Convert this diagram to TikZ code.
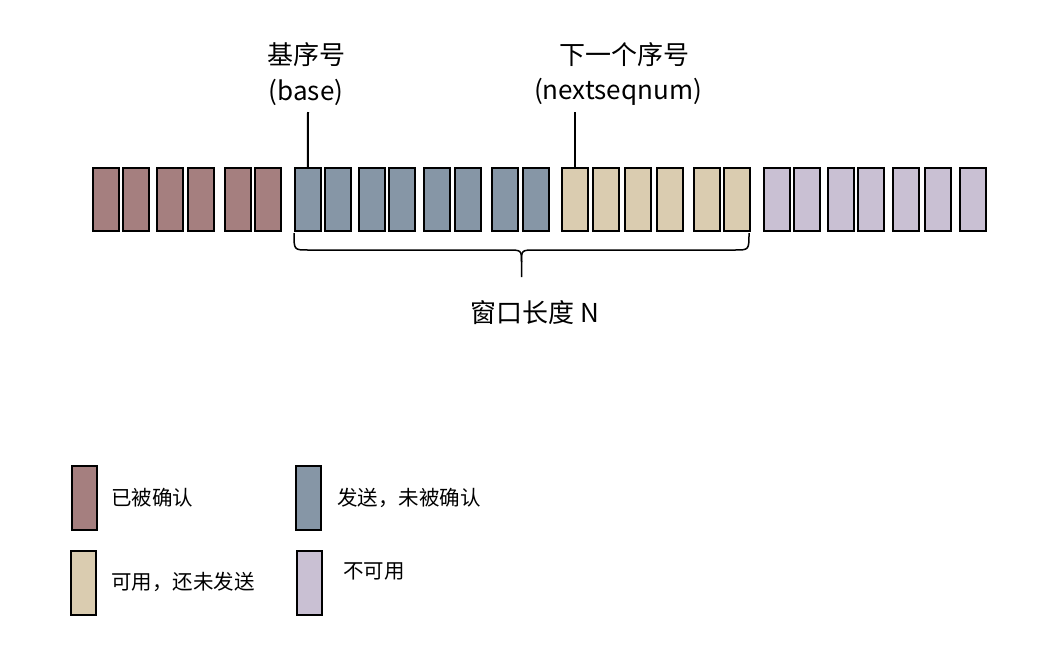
\documentclass[tikz,border=0pt]{standalone}
\usepackage{fontspec}
\setmainfont{Noto Sans CJK SC}
\usepackage{xcolor}
\usetikzlibrary{positioning}

\definecolor{ackedred}{HTML}{A57F7F}
\definecolor{sentblue}{HTML}{8696A6}
\definecolor{usabletan}{HTML}{DACCB0}
\definecolor{unusablelilac}{HTML}{C9C0D3}

\begin{document}
\begin{tikzpicture}[x=1pt, y=-1pt,
    cell/.style={draw, line width=2pt, minimum width=25.5pt, minimum height=63pt, inner sep=0pt},
    bigtext/.style={font=\fontsize{26}{30}\selectfont, inner sep=0pt},
    keytext/.style={font=\fontsize{20.5}{24}\selectfont, anchor=west, inner sep=0pt}]
    \useasboundingbox (0,0) rectangle (1055,648);

    % Sequence number cells
    \foreach \x [count=\i] in {92,122,156,187,224,254}
        \node[cell, fill=ackedred] (r\i) at (\x+13.75,199.5) {};
    \foreach \x [count=\i] in {294,324,358,388,423,454,491,522}
        \node[cell, fill=sentblue] (b\i) at (\x+13.75,199.5) {};
    \foreach \x [count=\i] in {561,592,624,656,693,723}
        \node[cell, fill=usabletan] (t\i) at (\x+13.75,199.5) {};
    \foreach \x [count=\i] in {763,793,827,857,892,924,959}
        \node[cell, fill=unusablelilac] (p\i) at (\x+13.75,199.5) {};

    % Pointers
    \coordinate (baseTop) at (308,112);
    \coordinate (nextTop) at (574.75,112);
    \draw[line width=2pt] (baseTop) -- (b1.north);
    \draw[line width=2pt] (nextTop) -- (t1.north);
    \node[bigtext] (baseEn) at (306,92) {(base)};
    \node[bigtext] (baseCn) at (306,55) {基序号};
    \node[bigtext] (nextEn) at (618,92) {(nextseqnum)};
    \node[bigtext] (nextCn) at (624,55) {下一个序号};

    % Window brace
    \coordinate (braceTip) at (521.5,277);
    \draw[line width=1.5pt] (294,233) .. controls (294,250) .. (308,250) -- (507,250)
        .. controls (521.5,250) .. (521.5,262) -- (braceTip);
    \draw[line width=1.5pt] (749,233) .. controls (749,250) .. (735,250) -- (536,250)
        .. controls (521.5,250) .. (521.5,262);
    \node[bigtext] (winLen) at (535,313) {窗口长度 N};

    % Legend
    \node[cell, fill=ackedred, minimum height=64pt] (keyAcked) at (84.5,498) {};
    \node[cell, fill=sentblue, minimum height=64pt] (keySent) at (308.7,498) {};
    \node[cell, fill=usabletan, minimum height=64pt] (keyUsable) at (83.3,582.7) {};
    \node[cell, fill=unusablelilac, minimum height=64pt] (keyUnusable) at (309.5,582.5) {};
    \node[keytext] (keyAckedText) at (111,498) {已被确认};
    \node[keytext] (keySentText) at (337,498) {发送，未被确认};
    \node[keytext] (keyUsableText) at (111,582) {可用，还未发送};
    \node[keytext] (keyUnusableText) at (343,571) {不可用};
\end{tikzpicture}
\end{document}
